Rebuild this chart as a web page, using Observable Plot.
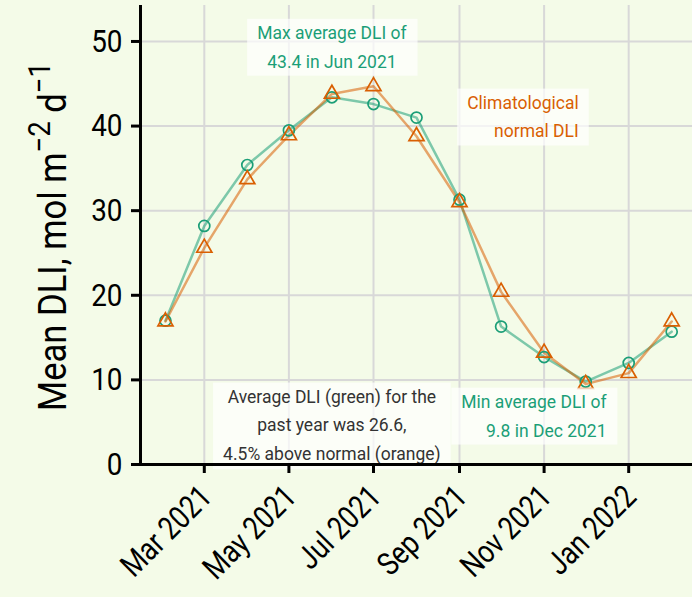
<!DOCTYPE html>
<html><head><meta charset="utf-8">
<script src="https://cdn.jsdelivr.net/npm/d3@7"></script>
<script src="https://cdn.jsdelivr.net/npm/@observablehq/plot@0.6"></script>
<style>
html,body{margin:0;padding:0;background:#f4fbe8;}
#chart svg{display:block;}
</style></head><body><div id="chart"></div>
<script>
// ---- data ----
const months = ["2021-02-01","2021-03-01","2021-04-01","2021-05-01","2021-06-01","2021-07-01","2021-08-01","2021-09-01","2021-10-01","2021-11-01","2021-12-01","2022-01-01","2022-02-01"];
const observedDLI = [17.0, 28.2, 35.4, 39.5, 43.4, 42.6, 41.0, 31.3, 16.3, 12.7, 9.8, 12.0, 15.7];
const normalDLI   = [16.9, 25.6, 33.7, 38.9, 43.8, 44.7, 38.8, 31.0, 20.4, 13.2, 9.5, 10.8, 16.9];
const yTicks = [0, 10, 20, 30, 40, 50];
const xDomain = ["2021-01-14", "2022-02-16"];
const yDomain = [0, 54.25];

const annDates   = ["2021-06-01", "2021-11-26", "2021-06-01", "2021-12-16"];
const annValues  = [49.7, 41.45, 5.0, 6.1];
const annTexts   = ["Max average DLI of\n43.4 in Jun 2021", "Climatological\nnormal DLI", "Average DLI (green) for the\npast year was 26.6,\n4.5% above normal (orange)", "Min average DLI of\n9.8 in Dec 2021"];
const annAnchors = ["middle", "end", "middle", "end"];
const annColors  = ["#1b9e77", "#d95f02", "#333333", "#1b9e77"];

// ---- styles ----
const bg = "#f4fbe8";
const green = "#1b9e77", orange = "#d95f02";
const gridColor = "#d8d8d8";
const font = "Roboto, sans-serif";

const parse = d3.utcParse("%Y-%m-%d");
const data = months.map((m, i) => ({date: parse(m), observed: observedDLI[i], normal: normalDLI[i]}));
const anns = annDates.map((d, i) => ({date: parse(d), value: annValues[i], text: annTexts[i], anchor: annAnchors[i], color: annColors[i]}));
const xStart = parse(xDomain[0]);
const xTickInterval = d3.utcMonth.every(2);

const plot = Plot.plot({
  width: 692, height: 597,
  marginLeft: 140, marginRight: 0, marginTop: 5, marginBottom: 133,
  style: {background: bg, fontFamily: font, color: "#000", overflow: "visible"},
  x: {type: "utc", domain: [parse(xDomain[0]), parse(xDomain[1])], label: null},
  y: {domain: yDomain, label: null},
  marks: [
    Plot.gridX({ticks: xTickInterval, stroke: gridColor, strokeOpacity: 1, strokeWidth: 2}),
    Plot.gridY({ticks: yTicks, stroke: gridColor, strokeOpacity: 1, strokeWidth: 2}),
    Plot.line(data, {x: "date", y: "observed", stroke: green, strokeOpacity: 0.55, strokeWidth: 2.5}),
    Plot.line(data, {x: "date", y: "normal", stroke: orange, strokeOpacity: 0.55, strokeWidth: 2.5}),
    Plot.dot(data, {x: "date", y: "observed", r: 5.5, symbol: "circle", stroke: green, strokeWidth: 1.7, fill: "none"}),
    Plot.dot(data, {x: "date", y: "normal", r: 5.6, symbol: "triangle", stroke: orange, strokeWidth: 1.7, fill: "none"}),
    ...anns.map(a => Plot.text([a], {x: "date", y: "value", text: "text", textAnchor: a.anchor, fill: a.color, fontSize: 17.5, lineHeight: 1.65})),
    Plot.ruleY([0], {stroke: "#000", strokeWidth: 3}),
    Plot.ruleX([xStart], {stroke: "#000", strokeWidth: 3}),
    Plot.axisY({ticks: yTicks, tickSize: 9, tickPadding: 9, fontSize: 32, strokeWidth: 3, label: null}),
    Plot.axisX({ticks: xTickInterval, tickSize: 9, strokeWidth: 3, fill: "none", label: null}),
    Plot.axisX({ticks: xTickInterval, tickFormat: d3.utcFormat("%b %Y"), tickRotate: -45, tickSize: 0, tickPadding: 27, dx: 2, fontSize: 32, label: null})
  ]
});
document.getElementById("chart").appendChild(plot);

// condensed look for tick labels (the reference uses a condensed face)
function condenseText(selector, factor) {
  plot.querySelectorAll(selector).forEach(t => {
    const w = t.getComputedTextLength();
    t.setAttribute("textLength", w * factor);
    t.setAttribute("lengthAdjust", "spacingAndGlyphs");
  });
}
condenseText('g[aria-label="x-axis tick label"] text', 0.83);
condenseText('g[aria-label="y-axis tick label"] text', 0.87);

// background boxes behind annotation labels
const svgRect = plot.getBoundingClientRect();
plot.querySelectorAll('g[aria-label="text"]').forEach(g => {
  g.querySelectorAll("text").forEach(t => {
    const b = t.getBoundingClientRect();
    const padX = 10, padY = 4;
    const r = document.createElementNS("http://www.w3.org/2000/svg", "rect");
    r.setAttribute("x", b.left - svgRect.left - padX);
    r.setAttribute("y", b.top - svgRect.top - padY);
    r.setAttribute("width", b.width + 2 * padX);
    r.setAttribute("height", b.height + 2 * padY);
    r.setAttribute("fill", "#ffffff");
    r.setAttribute("fill-opacity", 0.7);
    g.parentNode.insertBefore(r, g);
  });
});

// y-axis title with superscripts
const title = d3.select(plot).append("text")
  .attr("transform", "translate(66,236.5) rotate(-90)")
  .attr("text-anchor", "middle")
  .attr("font-family", font)
  .attr("font-size", 39)
  .attr("fill", "#000");
title.append("tspan").text("Mean DLI, mol m");
title.append("tspan").attr("font-size", 31).attr("dy", -16).text("\u22122");
title.append("tspan").attr("dy", 16).text(" d");
title.append("tspan").attr("font-size", 31).attr("dy", -16).text("\u22121");
const tw = title.node().getComputedTextLength();
title.attr("textLength", Math.min(tw, 349)).attr("lengthAdjust", "spacingAndGlyphs");
</script></body></html>
